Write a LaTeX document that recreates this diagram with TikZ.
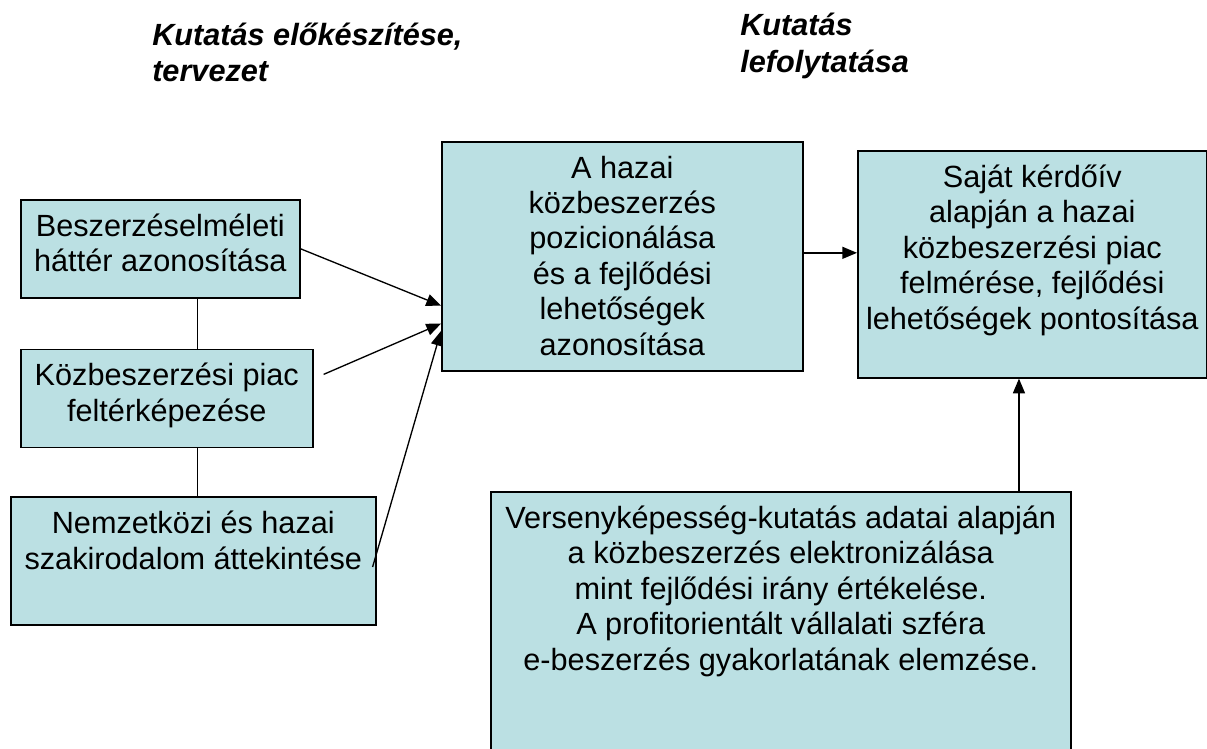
\documentclass[tikz,border=0pt]{standalone}
\usepackage{fontspec}
\setmainfont{Liberation Sans}
\usepackage{tikz}
\usetikzlibrary{positioning}
\usetikzlibrary{arrows.meta}
\definecolor{boxfill}{HTML}{BBE0E3}
\newcommand{\boxfont}{\fontsize{23}{26.6}\selectfont}
\newcommand{\headfont}{\fontsize{23}{27.75}\selectfont\bfseries\itshape}

\tikzset{
 stage/.style 2 args={draw=black, line width=1.2pt, fill=boxfill, inner sep=0pt, anchor=north west, font=\boxfont,
  execute at begin node={\begin{minipage}[t][#2][t]{#1}\boxfont\centering\vspace*{10.5pt}},
  execute at end node={\end{minipage}}},
 head/.style={font=\headfont, align=left, inner sep=0pt, anchor=base west},
 link/.style={line width=1pt, >={Triangle[length=11pt,width=9pt]}}
}

\begin{document}
\begin{tikzpicture}[x=0.75pt,y=-0.75pt]
\useasboundingbox (0,0) rectangle (1207,749);
\clip (0,0) rectangle (1207,749);
\node[head] (prep) at (152,82) {Kutatás előkészítése,\\tervezet};
\node[head] (conduct) at (740,73) {Kutatás\\lefolytatása};
\node[stage={209.25pt}{73.5pt}] (theory) at (20,199) {Beszerzéselméleti\\háttér azonosítása};
 \node[stage={219pt}{73.5pt}, below=37.5pt of theory.south west, anchor=north west] (market) {Közbeszerzési piac\\feltérképezése};
  \node[stage={273.75pt}{96pt}, below=36pt of market.south west, anchor=north west, xshift=-7.5pt] (lit) {Nemzetközi és hazai\\szakirodalom áttekintése};
\node[stage={270.75pt}{171.75pt}] (pos) at (441,141) {A hazai\\közbeszerzés\\pozicionálása\\és a fejlődési\\lehetőségek\\azonosítása};
\node[stage={261.75pt}{170.25pt}] (survey) at (857,150) {Saját kérdőív\\alapján a hazai\\közbeszerzési piac\\felmérése, fejlődési\\lehetőségek pontosítása};
\node[stage={435pt}{210pt}] (eproc) at (490,491) {Versenyképesség-kutatás adatai alapján\\a közbeszerzés elektronizálása\\mint fejlődési irány értékelése.\\A profitorientált vállalati szféra\\e-beszerzés gyakorlatának elemzése.};
\coordinate (t1) at ([xshift=28pt]theory.south);
 \draw[link] (t1) -- (t1 |- market.north);
\coordinate (t2) at ([xshift=23.25pt]market.south);
 \draw[link] (t2) -- (t2 |- lit.north);
\draw[link,->] (theory.east) -- ([yshift=-37pt]pos.west);
\draw[link,->] ([shift={(7.5pt,18pt)}]market.east) -- ([yshift=-50.5pt]pos.west);
\draw[link,->] ([shift={(-3pt,-4.5pt)}]lit.east) -- ([yshift=-56pt]pos.west);
\coordinate (h) at ([yshift=2.6pt]pos.east);
 \draw[link,->] (h) -- (h -| survey.west);
\coordinate (v) at ([xshift=-10pt]survey.south);
 \draw[link,->] (v |- eproc.north) -- (v);
\end{tikzpicture}
\end{document}
